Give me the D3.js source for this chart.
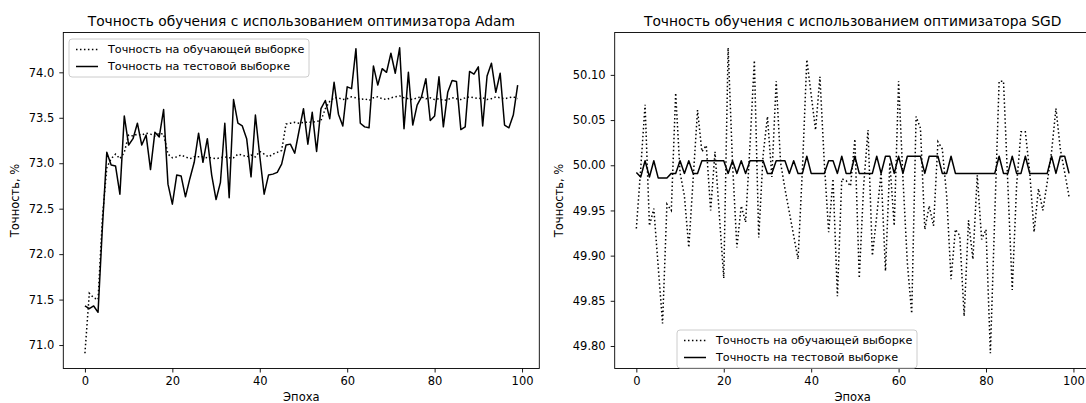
<!DOCTYPE html>
<meta charset="utf-8">
<head>
  <title>Точность обучения</title>
</head>

<style>
  body { margin: 0; background: #fff; }
  svg { display: block; font-family: "DejaVu Sans", sans-serif; }
</style>

<body>

  <div id="chart"></div>

  <script src="https://d3js.org/d3.v7.min.js"></script>
  <script>

  // epochs 0..99
  var epochs = d3.range(100);

  // Adam: accuracy on train / test set
  var adamTrain = [70.91, 71.57, 71.52, 71.50, 72.40, 72.95, 73.05, 73.10, 73.05, 73.12,
                   73.31, 73.30, 73.32, 73.31, 73.33, 73.32, 73.30, 73.33, 73.32, 73.10,
                   73.06, 73.07, 73.09, 73.07, 73.05, 73.07, 73.07, 73.07, 73.06, 73.06,
                   73.05, 73.06, 73.07, 73.06, 73.06, 73.10, 73.09, 73.07, 73.09, 73.07,
                   73.13, 73.10, 73.07, 73.10, 73.12, 73.14, 73.43, 73.44, 73.45, 73.44,
                   73.45, 73.45, 73.45, 73.46, 73.47, 73.60, 73.68, 73.72, 73.72, 73.70,
                   73.71, 73.73, 73.72, 73.70, 73.71, 73.69, 73.72, 73.73, 73.71, 73.70,
                   73.72, 73.73, 73.74, 73.72, 73.71, 73.70, 73.72, 73.73, 73.71, 73.72,
                   73.70, 73.71, 73.69, 73.70, 73.72, 73.71, 73.70, 73.72, 73.73, 73.72,
                   73.71, 73.72, 73.70, 73.71, 73.73, 73.72, 73.71, 73.72, 73.73, 73.71];

  var adamTest = [71.43, 71.40, 71.43, 71.36, 72.30, 73.12, 72.98, 72.97, 72.66, 73.52,
                  73.20, 73.27, 73.44, 73.20, 73.31, 72.93, 73.34, 73.29, 73.59, 72.77,
                  72.55, 72.87, 72.86, 72.63, 72.83, 73.01, 73.33, 73.01, 73.27, 72.87,
                  72.60, 72.79, 73.44, 72.62, 73.70, 73.44, 73.41, 73.27, 72.85, 73.53,
                  73.08, 72.66, 72.87, 72.88, 72.90, 72.99, 73.20, 73.21, 73.11, 73.36,
                  73.60, 73.21, 73.56, 73.13, 73.60, 73.69, 73.49, 73.89, 73.54, 73.41,
                  73.84, 73.82, 74.26, 73.44, 73.40, 73.39, 74.07, 73.86, 74.04, 74.00,
                  74.21, 73.99, 74.27, 73.38, 74.00, 73.42, 73.64, 73.73, 73.93, 73.47,
                  73.52, 73.95, 73.40, 73.78, 73.91, 73.90, 73.37, 73.40, 74.01, 73.98,
                  74.06, 73.41, 73.96, 74.10, 73.78, 73.99, 73.42, 73.39, 73.53, 73.86];

  // SGD: accuracy on train / test set
  var sgdTrain = [49.930, 49.996, 50.067, 49.933, 49.952, 49.888, 49.825, 49.957, 49.950, 50.080,
                  49.992, 49.966, 49.909, 49.985, 50.061, 50.015, 50.022, 49.950, 50.015, 49.944,
                  49.875, 50.130, 50.003, 49.909, 49.955, 49.937, 50.022, 50.116, 49.920, 50.011,
                  50.054, 49.987, 50.093, 50.003, 49.974, 49.948, 49.922, 49.896, 49.996, 50.117,
                  50.078, 50.039, 50.098, 50.003, 49.926, 49.985, 49.855, 49.985, 49.983, 49.977,
                  50.029, 49.875, 49.977, 50.039, 49.900, 49.944, 49.992, 49.883, 50.003, 49.933,
                  50.093, 49.985, 49.892, 49.836, 50.054, 50.041, 49.929, 49.955, 49.933, 50.026,
                  50.018, 49.966, 49.874, 49.929, 49.922, 49.833, 49.939, 49.896, 49.989, 49.918,
                  49.929, 49.792, 49.944, 50.093, 50.093, 49.978, 49.862, 49.978, 50.037, 50.037,
                  49.992, 49.926, 49.974, 49.950, 49.981, 50.015, 50.063, 50.018, 49.992, 49.965];

  var sgdTest = [49.992, 49.987, 50.005, 49.987, 50.005, 49.986, 49.986, 49.986, 49.991, 49.991,
                 50.005, 49.991, 50.005, 49.991, 49.991, 50.005, 50.005, 50.005, 50.005, 50.005,
                 50.005, 49.991, 50.005, 49.991, 50.005, 49.991, 50.005, 50.005, 50.005, 50.005,
                 49.991, 49.991, 50.005, 50.005, 50.005, 49.991, 50.005, 49.991, 49.991, 50.010,
                 49.991, 49.991, 49.991, 49.991, 50.005, 50.005, 49.991, 50.010, 49.991, 49.991,
                 50.010, 49.991, 49.991, 49.991, 49.991, 50.010, 49.991, 50.010, 50.010, 49.991,
                 50.010, 49.991, 50.010, 50.010, 50.010, 50.010, 49.991, 50.010, 50.010, 50.010,
                 49.991, 49.991, 50.010, 49.991, 49.991, 49.991, 49.991, 49.991, 49.991, 49.991,
                 49.991, 49.991, 49.991, 50.010, 49.991, 49.991, 50.010, 49.991, 49.991, 50.010,
                 49.991, 49.991, 49.991, 49.991, 49.991, 50.010, 49.991, 50.010, 50.010, 49.991];

  var xTicks = [0, 20, 40, 60, 80, 100];
  var adamYTicks = [71.0, 71.5, 72.0, 72.5, 73.0, 73.5, 74.0];
  var sgdYTicks = [49.80, 49.85, 49.90, 49.95, 50.00, 50.05, 50.10];

  var legendLabels = ["Точность на обучающей выборке", "Точность на тестовой выборке"];
  var xLabel = "Эпоха";
  var yLabel = "Точность, %";

  var fontSize = 11.5;
  var legendFont = 11.2;

  var svg = d3.select("#chart")
    .append("svg")
      .attr("width", 1086)
      .attr("height", 403)
      .style("overflow", "hidden");

  svg.append("rect").attr("width", 1086).attr("height", 403).attr("fill", "#fff");

  function drawPanel(p) {
    var top = 32.5, bottom = 368.5;

    var x = d3.scaleLinear().domain([-4.95, 103.95]).range([p.left, p.right]);

    var ext = d3.extent(p.train.concat(p.test));
    var pad = (ext[1] - ext[0]) * 0.05;
    var y = d3.scaleLinear().domain([ext[0] - pad, ext[1] + pad]).range([bottom, top]);

    var g = svg.append("g");

    // clip for the lines
    g.append("clipPath").attr("id", p.id + "-clip")
      .append("rect")
        .attr("x", p.left).attr("y", top)
        .attr("width", p.right - p.left).attr("height", bottom - top);

    var line = d3.line()
      .x(function(d, i) { return x(epochs[i]); })
      .y(function(d) { return y(d); });

    var lines = g.append("g").attr("clip-path", "url(#" + p.id + "-clip)");

    lines.append("path")
      .datum(p.train)
      .attr("d", line)
      .attr("fill", "none")
      .attr("stroke", "#000")
      .attr("stroke-width", 1.5)
      .attr("stroke-dasharray", "1.5,2.475");

    lines.append("path")
      .datum(p.test)
      .attr("d", line)
      .attr("fill", "none")
      .attr("stroke", "#000")
      .attr("stroke-width", 1.5)
      .attr("stroke-linejoin", "round");

    // axes
    var xAxis = g.append("g")
      .attr("transform", "translate(0," + bottom + ")")
      .call(d3.axisBottom(x).tickValues(xTicks).tickSize(4).tickPadding(4).tickFormat(d3.format("d")));

    var yAxis = g.append("g")
      .attr("transform", "translate(" + p.left + ",0)")
      .call(d3.axisLeft(y).tickValues(p.yTicks).tickSize(4).tickPadding(5).tickFormat(d3.format(p.yFormat)));

    [xAxis, yAxis].forEach(function(a) {
      a.select(".domain").remove();
      a.selectAll("text").attr("font-size", fontSize).attr("font-family", "DejaVu Sans").attr("fill", "#000");
      a.selectAll("line").attr("stroke", "#000").attr("stroke-width", 0.9);
    });

    // frame
    g.append("rect")
      .attr("x", p.left).attr("y", top)
      .attr("width", p.right - p.left).attr("height", bottom - top)
      .attr("fill", "none").attr("stroke", "#000").attr("stroke-width", 0.9);

    // title and labels
    g.append("text")
      .attr("x", (p.left + p.right) / 2)
      .attr("y", 26)
      .attr("text-anchor", "middle")
      .attr("font-size", 13.8)
      .text(p.title);

    g.append("text")
      .attr("x", (p.left + p.right) / 2)
      .attr("y", 401)
      .attr("text-anchor", "middle")
      .attr("font-size", fontSize)
      .text(xLabel);

    g.append("text")
      .attr("transform", "translate(" + p.yLabelX + "," + ((top + bottom) / 2) + ") rotate(-90)")
      .attr("text-anchor", "middle")
      .attr("dy", "0.35em")
      .attr("font-size", fontSize)
      .text(yLabel);

    // legend
    var lg = g.append("g").attr("transform", "translate(" + p.legend[0] + "," + p.legend[1] + ")");
    lg.append("rect")
      .attr("width", p.legend[2]).attr("height", 38)
      .attr("rx", 3)
      .attr("fill", "#fff").attr("fill-opacity", 0.8)
      .attr("stroke", "#ccc").attr("stroke-width", 1);
    legendLabels.forEach(function(t, k) {
      var cy = 10.5 + k * 17;
      lg.append("line")
        .attr("x1", 7).attr("x2", 29).attr("y1", cy).attr("y2", cy)
        .attr("stroke", "#000").attr("stroke-width", 1.5)
        .attr("stroke-dasharray", k === 0 ? "1.5,2.475" : null);
      lg.append("text")
        .attr("x", 39).attr("y", cy)
        .attr("dy", "0.35em")
        .attr("font-size", legendFont)
        .text(t);
    });
  }

  drawPanel({
    id: "adam", left: 63.3, right: 539.3,
    train: adamTrain, test: adamTest,
    yTicks: adamYTicks, yFormat: ".1f",
    title: "Точность обучения с использованием оптимизатора Adam",
    yLabelX: 15,
    legend: [69, 39, 240]
  });

  drawPanel({
    id: "sgd", left: 614.7, right: 1090.7,
    train: sgdTrain, test: sgdTest,
    yTicks: sgdYTicks, yFormat: ".2f",
    title: "Точность обучения с использованием оптимизатора SGD",
    yLabelX: 559,
    legend: [677, 330, 240]
  });

  </script>
</body>
</html>
